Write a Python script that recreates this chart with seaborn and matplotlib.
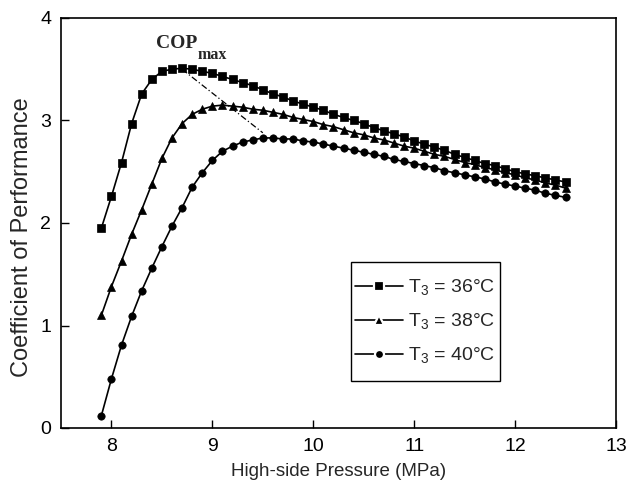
import numpy as np
import pandas as pd
import matplotlib
matplotlib.use("Agg")
import matplotlib.pyplot as plt
from matplotlib.patches import Rectangle
from matplotlib.lines import Line2D
import seaborn as sns

pressure = [7.9, 8.0, 8.1, 8.2, 8.3, 8.4, 8.5, 8.6, 8.7, 8.8, 8.9, 9.0, 9.1, 9.2, 9.3, 9.4,
            9.5, 9.6, 9.7, 9.8, 9.9, 10.0, 10.1, 10.2, 10.3, 10.4, 10.5, 10.6, 10.7, 10.8,
            10.9, 11.0, 11.1, 11.2, 11.3, 11.4, 11.5, 11.6, 11.7, 11.8, 11.9, 12.0, 12.1,
            12.2, 12.3, 12.4, 12.5]

cop_36 = [1.95, 2.26, 2.59, 2.97, 3.26, 3.40, 3.48, 3.50, 3.51, 3.50, 3.48, 3.46, 3.43, 3.40,
          3.37, 3.34, 3.30, 3.26, 3.23, 3.19, 3.16, 3.13, 3.10, 3.06, 3.03, 3.00, 2.97, 2.93,
          2.90, 2.87, 2.84, 2.80, 2.77, 2.74, 2.71, 2.67, 2.64, 2.61, 2.58, 2.56, 2.53, 2.50,
          2.48, 2.46, 2.44, 2.42, 2.40]

cop_38 = [1.10, 1.38, 1.63, 1.89, 2.13, 2.38, 2.63, 2.83, 2.97, 3.06, 3.11, 3.14, 3.15, 3.14,
          3.13, 3.11, 3.10, 3.08, 3.06, 3.03, 3.01, 2.99, 2.96, 2.94, 2.91, 2.88, 2.86, 2.83,
          2.81, 2.78, 2.75, 2.73, 2.70, 2.67, 2.65, 2.62, 2.59, 2.57, 2.54, 2.52, 2.49, 2.47,
          2.44, 2.42, 2.39, 2.37, 2.34]

cop_40 = [0.12, 0.48, 0.81, 1.09, 1.34, 1.56, 1.77, 1.97, 2.15, 2.35, 2.49, 2.61, 2.70, 2.75,
          2.79, 2.81, 2.83, 2.83, 2.82, 2.82, 2.80, 2.79, 2.77, 2.75, 2.73, 2.71, 2.69, 2.67,
          2.65, 2.62, 2.60, 2.58, 2.56, 2.54, 2.51, 2.49, 2.47, 2.45, 2.43, 2.40, 2.38, 2.36,
          2.34, 2.32, 2.29, 2.27, 2.25]

series_labels = ["T$_3$ = 36°C", "T$_3$ = 38°C", "T$_3$ = 40°C"]
series_markers = ["s", "^", "o"]
max_line_x = [8.7, 9.5]
max_line_y = [3.50, 2.88]

x_ticks = [8, 9, 10, 11, 12, 13]
y_ticks = [0, 1, 2, 3, 4]

sns.set_style("ticks")
plt.rcParams["font.family"] = ["Liberation Sans", "DejaVu Sans"]
plt.rcParams["mathtext.fontset"] = "custom"
plt.rcParams["mathtext.rm"] = "Liberation Sans"
plt.rcParams["mathtext.it"] = "Liberation Sans:italic"
plt.rcParams["mathtext.bf"] = "Liberation Sans:bold"

df = pd.DataFrame({
    "p": pressure * 3,
    "cop": cop_36 + cop_38 + cop_40,
    "series": [series_labels[0]] * len(pressure) + [series_labels[1]] * len(pressure)
              + [series_labels[2]] * len(pressure),
})

fig = plt.figure(figsize=(6.26, 4.91), dpi=100)
ax = fig.add_axes([61 / 626, 1 - 428 / 491, 555 / 626, 410 / 491])

sns.lineplot(data=df, x="p", y="cop", hue="series", style="series",
             palette=["black"] * 3, markers=series_markers, dashes=False,
             markersize=5.3, linewidth=1.2, markeredgecolor="black",
             markeredgewidth=0.5, ax=ax, legend=False)

ax.plot(max_line_x, max_line_y, color="black", linestyle=(0, (5, 2, 1, 2)), linewidth=0.9)

ax.set_xlim(7.5, 13)
ax.set_ylim(0, 4)
ax.set_xticks(x_ticks)
ax.set_yticks(y_ticks)
ax.tick_params(direction="in", length=6, width=1, labelsize=14, pad=7, colors="black")
for s in ax.spines.values():
    s.set_visible(True)
    s.set_linewidth(1.2)
    s.set_color("black")

ax.set_xlabel("High-side Pressure (MPa)", fontsize=13.5, labelpad=6)
ax.set_ylabel("Coefficient of Performance", fontsize=17)
ax.yaxis.set_label_coords(-0.05, 0.466)

# COP_max annotation (bold serif)
ax.text(8.85, 3.707, "COP", fontsize=14, fontweight="bold", family="Liberation Serif",
        ha="right", va="baseline")
ax.text(8.85, 3.60, "max", fontsize=11.5, fontweight="bold", family="Liberation Serif",
        ha="left", va="baseline")

# legend
handles = [Line2D([], [], color="black", linewidth=1.2, marker=m, markersize=6.5,
                  markerfacecolor="black", markeredgecolor="white", markeredgewidth=1.6)
           for m in series_markers]
ax.add_patch(Rectangle((0.5225, 0.1146), 0.791 - 0.5225, 0.405 - 0.1146,
                       transform=ax.transAxes, facecolor="white", edgecolor="black",
                       linewidth=1.0, zorder=4))
leg = ax.legend(handles, series_labels, loc="center",
                bbox_to_anchor=((0.5225 + 0.791) / 2, (0.1146 + 0.405) / 2),
                frameon=False, fontsize=14, handlelength=2.45, handletextpad=0.28,
                labelspacing=0.72, borderpad=0, borderaxespad=0)
leg.set_zorder(5)

fig.savefig("out.png", dpi=100)
